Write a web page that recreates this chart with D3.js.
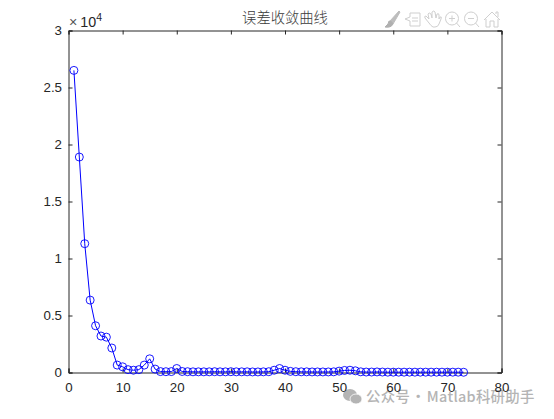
<!DOCTYPE html>
<html><head><meta charset="utf-8">
<script src="https://cdn.jsdelivr.net/npm/d3@7"></script>
<style>html,body{margin:0;padding:0;background:#fff}svg{display:block}text{font-family:Arial,"Liberation Sans",sans-serif}</style>
</head><body><svg id="c" width="554" height="419"></svg>
<script>
const chartTitle = "误差收敛曲线";
const watermark = "公众号 · Matlab科研助手";
const xTicks = [0,10,20,30,40,50,60,70,80];
const yTicks = [0,5000,10000,15000,20000,25000,30000];
const yTickLabels = ["0","0.5","1","1.5","2","2.5","3"];
const errorValues = [26500,18900,11300,6350,4100,3200,3100,2150,650,500,250,200,250,650,1200,300,80,70,80,350,
 90,70,60,60,60,60,70,60,60,70,60,60,60,50,50,60,70,200,350,200,
 100,70,60,60,50,50,50,50,60,120,180,200,150,60,40,40,50,40,30,30,
 30,30,30,30,30,30,30,30,30,30,30,30,20];
const iterations = errorValues.map((_,i)=>i+1);

const svg = d3.select("#c");
const m = {l:68.5,r:501.5,t:30.5,b:372.5};
const x = d3.scaleLinear().domain([0,80]).range([m.l,m.r]);
const y = d3.scaleLinear().domain([0,30000]).range([m.b,m.t]);
const ink = "#262626";

// watermark (under the tick labels)
const wm = svg.append("g");
wm.append("text").attr("x",366).attr("y",402).attr("fill","#b4b4b4").attr("font-size",14.4)
  .attr("font-weight",500).attr("letter-spacing",0.3).attr("word-spacing",-2.5)
  .style("font-family",'"Noto Sans CJK SC"').text(watermark);
wm.append("ellipse").attr("cx",350).attr("cy",395).attr("rx",7).attr("ry",6).attr("fill","#b4b4b4");
wm.append("ellipse").attr("cx",356).attr("cy",399).attr("rx",6).attr("ry",5).attr("fill","#b4b4b4").attr("stroke","#fff").attr("stroke-width",0.8);

// axes (box style with inward ticks)
const gB = svg.append("g").attr("transform",`translate(0,${m.b})`).call(d3.axisBottom(x).tickValues(xTicks).tickSize(-4).tickPadding(10));
const gT = svg.append("g").attr("transform",`translate(0,${m.t})`).call(d3.axisTop(x).tickValues(xTicks).tickSize(-4).tickFormat(""));
const gL = svg.append("g").attr("transform",`translate(${m.l},0)`).call(d3.axisLeft(y).tickValues(yTicks).tickSize(-4).tickPadding(6.5).tickFormat((d,i)=>yTickLabels[i]));
const gR = svg.append("g").attr("transform",`translate(${m.r},0)`).call(d3.axisRight(y).tickValues(yTicks).tickSize(-4).tickFormat(""));
[gB,gT,gL,gR].forEach(g=>{
  g.selectAll("path,line").attr("stroke",ink).attr("stroke-width",1);
  g.selectAll("text").attr("fill",ink).attr("font-size",13.3).attr("font-family",'Arial,"Liberation Sans",sans-serif');
});

// series
const line = d3.line().x((d,i)=>x(iterations[i])).y(d=>y(d));
svg.append("path").datum(errorValues).attr("d",line).attr("fill","none").attr("stroke","#0000ff").attr("stroke-width",1);
svg.append("g").selectAll("circle").data(errorValues).join("circle")
  .attr("cx",(d,i)=>x(iterations[i])).attr("cy",d=>y(d)).attr("r",4)
  .attr("fill","none").attr("stroke","#0000ff").attr("stroke-width",0.9);

// exponent label
const ex = svg.append("text").attr("x",69).attr("y",27).attr("fill",ink).attr("font-size",14.3);
ex.append("tspan").attr("fill","#555").text("×");
ex.append("tspan").attr("dx",3).text("10");
ex.append("tspan").attr("dy",-6).attr("font-size",10.5).text("4");

// title
svg.append("text").attr("x",285).attr("y",23).attr("text-anchor","middle").attr("fill","#3a3a3a")
  .attr("font-size",14.3).attr("font-weight",300).style("font-family",'"Noto Sans CJK SC"').text(chartTitle);

// toolbar
const tb = svg.append("g").attr("fill","none").attr("stroke","#cfcfcf").attr("stroke-width",1);
tb.append("path").attr("d","M390 21 L399 11 L400 12 L393 24 Z").attr("fill","#bdbdbd").attr("stroke","#bdbdbd");
tb.append("path").attr("d","M385 27 Q389 24 389 21 Q392 21 393 24 Q391 28 385 27Z").attr("fill","#b0b0b0").attr("stroke","#b0b0b0");
tb.append("path").attr("d","M410 13 H420 V26 H410 V21 L405 19 L410 17 Z M412 18 H418 M412 21 H418");
tb.append("path").attr("d","M429 23 L425 18 Q424 16 426 16 L429 19 L428 14 Q429 12 431 14 L432 18 L432 12 Q434 10 435 12 L436 18 L437 14 Q439 13 439 15 L439 19 L440 17 Q442 16 441 19 L439 24 Q438 27 435 27 H433 Q431 26 429 23 Z");
for (const [cx,plus] of [[452,true],[471,false]]) {
  tb.append("circle").attr("cx",cx).attr("cy",18.5).attr("r",6.5);
  tb.append("path").attr("d",`M${cx+4.5} 23 L${cx+8} 27 M${cx-3} 18.5 H${cx+3}`+(plus?` M${cx} 15.5 V21.5`:""));
}
tb.append("path").attr("d","M484 20 L492 12 L500 20 M486 19 V27 H490 V21 H494 V27 H498 V19 M496 14 V12 H498 V17");
</script></body></html>
